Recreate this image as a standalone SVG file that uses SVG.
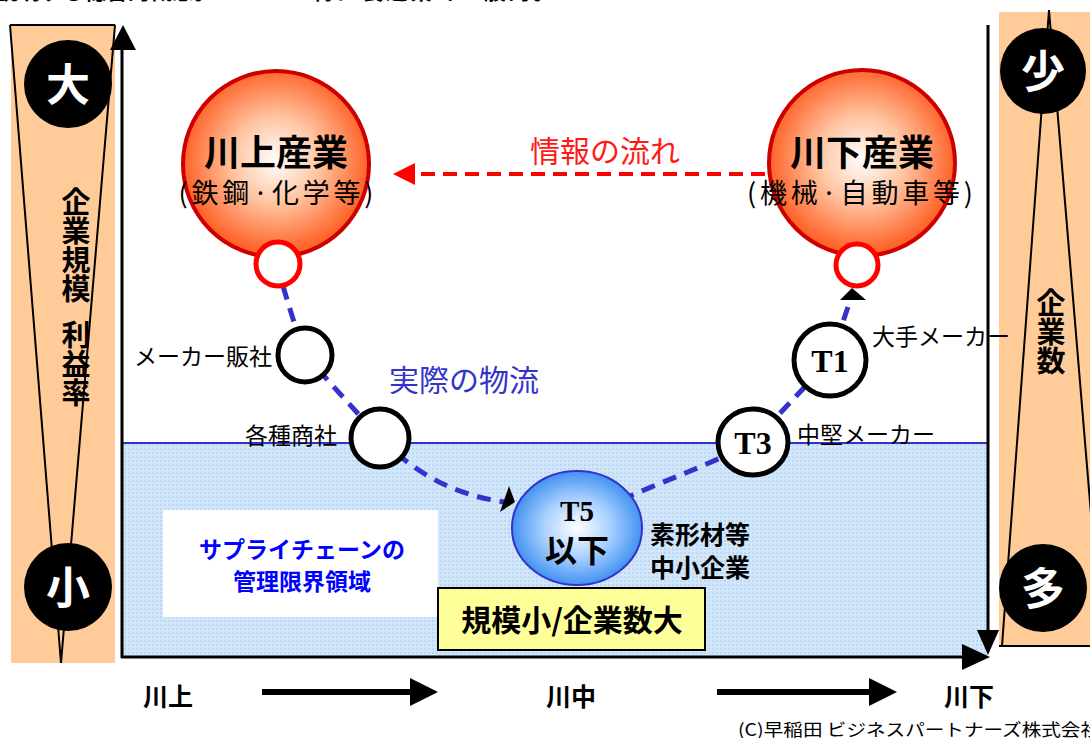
<svg xmlns="http://www.w3.org/2000/svg" width="1090" height="738" viewBox="0 0 1090 738">
<style>
.jp{font-family:"Noto Sans CJK JP","Noto Sans",sans-serif}
.b{font-weight:bold}
.lbl{font-family:"Noto Sans CJK JP",sans-serif;font-size:23px;fill:#000}
.tnum{font-family:"Liberation Serif",serif;font-weight:bold;fill:#000}
.ring{fill:#fff;stroke:#000;stroke-width:5}
.redring{fill:#fff;stroke:#FF0000;stroke-width:5}
.blk{fill:#000}
.wch{font-family:"Noto Sans CJK JP",sans-serif;font-weight:bold;font-size:44px;fill:#fff;text-anchor:middle}
.vt{font-family:"Noto Sans CJK JP",sans-serif;font-weight:bold;font-size:29px;fill:#000;writing-mode:vertical-rl}
.flow{fill:none;stroke:#3333CC;stroke-width:5;stroke-dasharray:14 9}
.axis{stroke:#000;stroke-width:3;fill:none}
</style>
<defs>
<radialGradient id="gRed" cx="50%" cy="48%" r="52%">
<stop offset="0" stop-color="#FFFFFF"/>
<stop offset="0.45" stop-color="#FFC4A0"/>
<stop offset="1" stop-color="#FF5A1E"/>
</radialGradient>
<radialGradient id="gBlue" cx="50%" cy="50%" r="52%">
<stop offset="0" stop-color="#FFFFFF"/>
<stop offset="0.5" stop-color="#A8D0FF"/>
<stop offset="1" stop-color="#3A8CF0"/>
</radialGradient>
<pattern id="dots" width="4" height="4" patternUnits="userSpaceOnUse">
<rect width="4" height="4" fill="#D2E6FA"/>
<rect width="2" height="2" fill="#BCD8F6"/>
</pattern>
</defs>

<!-- cut-off top text -->
<g id="top-text">
<text x="-4" y="-1" class="jp b" font-size="22">説明する総合的概念。</text>
<text x="280" y="-1" class="jp b" font-size="22" textLength="275" lengthAdjust="spacing">・ 特に製造業で一般的。</text>
</g>

<!-- left side bar -->
<g id="left-bar">
<rect x="11" y="25" width="104" height="638" fill="#FFCC99"/>
<line x1="10" y1="25" x2="115" y2="25" stroke="#000" stroke-width="2"/>
<polyline points="10,25 61,663 115,25" fill="none" stroke="#000" stroke-width="2"/>
<circle cx="68" cy="84" r="44" class="blk"/>
<text x="68" y="101" class="wch">大</text>
<circle cx="68" cy="587" r="44" class="blk"/>
<text x="68" y="604" class="wch">小</text>
<text x="76" y="187" class="vt">企業規模</text>
<text x="76" y="320" class="vt">利益率</text>
</g>

<!-- right side bar -->
<g id="right-bar">
<rect x="999" y="12" width="91" height="634" fill="#FFCC99"/>
<polyline points="1002,646 1049,10 1102,646" fill="none" stroke="#000" stroke-width="2"/>
<line x1="999" y1="646" x2="1090" y2="646" stroke="#000" stroke-width="2"/>
<circle cx="1043" cy="71" r="43" class="blk"/>
<text x="1043" y="88" class="wch">少</text>
<circle cx="1043" cy="588" r="44" class="blk"/>
<text x="1043" y="605" class="wch">多</text>
<text x="1051" y="288" class="vt">企業数</text>
</g>

<!-- lower blue region -->
<g id="region">
<rect x="122" y="443" width="866" height="214" fill="url(#dots)"/>
<line x1="122" y1="443" x2="988" y2="443" stroke="#3333CC" stroke-width="2"/>
</g>

<!-- axes -->
<g id="axes">
<line x1="122" y1="658" x2="122" y2="45" class="axis"/>
<polygon points="123,25 110,50 136,50" class="blk"/>
<line x1="121" y1="657" x2="966" y2="657" class="axis"/>
<polygon points="990,657 962,644 962,670" class="blk"/>
<line x1="988" y1="25" x2="988" y2="632" class="axis"/>
<polygon points="988,655 977,630 999,630" class="blk"/>
</g>

<!-- connectors -->
<g id="connectors">
<path class="flow" d="M283,286 C290,310 298,335 305,355 L380,438 C420,478 460,496 505,502"/>
<polygon points="509,486 500,512 515,502" class="blk"/>
<path class="flow" d="M600,510 C650,485 700,470 753,442 L830,360 L851,298"/>
<polygon points="852,288 840,300 866,300" class="blk"/>
<line x1="765" y1="174" x2="414" y2="174" stroke="#FF0000" stroke-width="4" stroke-dasharray="14 8"/>
<polygon points="393,174 415,163 415,185" fill="#FF0000"/>
</g>

<!-- upstream ball -->
<g id="upstream">
<circle cx="276" cy="164" r="93" fill="url(#gRed)" stroke="#CC0000" stroke-width="4"/>
<circle cx="278" cy="264" r="22" class="redring"/>
<text x="276" y="166" class="jp b" font-size="36" text-anchor="middle">川上産業</text>
<text x="276" y="203" class="jp" font-size="27" text-anchor="middle" textLength="195" lengthAdjust="spacing">(鉄鋼·化学等)</text>
</g>

<!-- downstream ball -->
<g id="downstream">
<circle cx="862" cy="163" r="93" fill="url(#gRed)" stroke="#CC0000" stroke-width="4"/>
<circle cx="857" cy="265" r="21" class="redring"/>
<text x="862" y="166" class="jp b" font-size="36" text-anchor="middle">川下産業</text>
<text x="860" y="203" class="jp" font-size="27" text-anchor="middle" textLength="226" lengthAdjust="spacing">(機械·自動車等)</text>
</g>

<g id="info-label">
<text x="605" y="162" class="jp" font-size="30" fill="#FF1A1A" text-anchor="middle">情報の流れ</text>
</g>

<g id="maker-sales">
<circle cx="305" cy="355" r="27" class="ring"/>
<text x="272" y="365" class="lbl" text-anchor="end">メーカー販社</text>
</g>

<g id="trading">
<circle cx="380" cy="438" r="29" class="ring"/>
<text x="337" y="444" class="lbl" text-anchor="end">各種商社</text>
</g>

<g id="flow-label">
<text x="464" y="391" class="jp" font-size="30" fill="#3333CC" text-anchor="middle">実際の物流</text>
</g>

<g id="t5">
<ellipse cx="577" cy="528" rx="65" ry="57" fill="url(#gBlue)" stroke="#3333CC" stroke-width="2"/>
<text x="577" y="521" class="tnum" font-size="29" text-anchor="middle">T5</text>
<text x="577" y="562" class="jp b" font-size="32" text-anchor="middle">以下</text>
<text x="650" y="544" class="jp b" font-size="25">素形材等</text>
<text x="650" y="577" class="jp b" font-size="25">中小企業</text>
</g>

<g id="t3">
<ellipse cx="753" cy="442" rx="35" ry="33" class="ring"/>
<text x="753" y="454" class="tnum" font-size="32" text-anchor="middle">T3</text>
<text x="797" y="443" class="lbl">中堅メーカー</text>
</g>

<g id="t1">
<circle cx="830" cy="360" r="36" class="ring"/>
<text x="830" y="372" class="tnum" font-size="32" text-anchor="middle">T1</text>
<text x="872" y="345" class="lbl">大手メーカー</text>
</g>

<g id="limit-area">
<rect x="163" y="510" width="275" height="107" fill="#fff"/>
<text x="302" y="558" class="jp b" font-size="23" fill="#0000FF" text-anchor="middle">サプライチェーンの</text>
<text x="302" y="590" class="jp b" font-size="23" fill="#0000FF" text-anchor="middle">管理限界領域</text>
</g>

<g id="scale-box">
<rect x="438" y="588" width="267" height="62" fill="#FFFF99" stroke="#000" stroke-width="2"/>
<text x="572" y="631" class="jp b" font-size="30" text-anchor="middle">規模小/企業数大</text>
</g>

<g id="bottom-axis">
<text x="168" y="706" class="jp b" font-size="25" text-anchor="middle">川上</text>
<line x1="262" y1="692" x2="412" y2="692" stroke="#000" stroke-width="6"/>
<polygon points="438,692 410,678 410,706" class="blk"/>
<text x="571" y="706" class="jp b" font-size="25" text-anchor="middle">川中</text>
<line x1="717" y1="692" x2="870" y2="692" stroke="#000" stroke-width="6"/>
<polygon points="897,692 869,678 869,706" class="blk"/>
<text x="969" y="706" class="jp b" font-size="25" text-anchor="middle">川下</text>
<text x="738" y="736" class="jp" font-size="17" textLength="362" lengthAdjust="spacingAndGlyphs">(C)早稲田 ビジネスパートナーズ株式会社</text>
</g>
</svg>
